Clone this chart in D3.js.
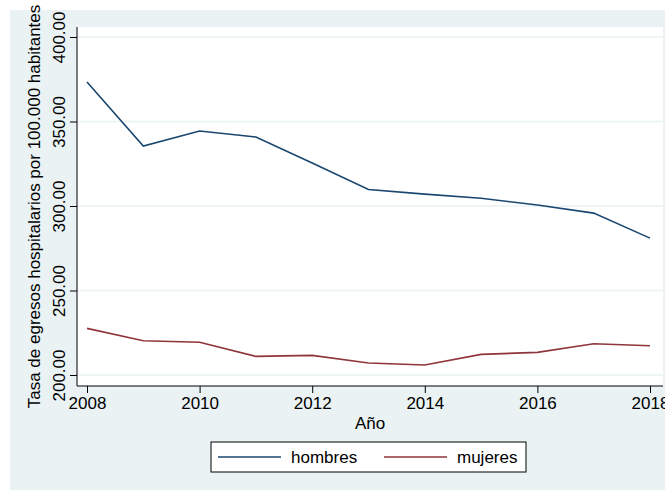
<!DOCTYPE html>
<html>
<head>
<meta charset="utf-8">
<script src="https://cdn.jsdelivr.net/npm/d3@7"></script>
<style>
  body { margin: 0; background: #fff; }
  text { font-family: "Liberation Sans", Arial, sans-serif; fill: #000; }
</style>
</head>
<body>
<svg id="chart" width="665" height="490"></svg>
<script>
// data
var years = [2008, 2009, 2010, 2011, 2012, 2013, 2014, 2015, 2016, 2017, 2018]
var hombres = [373.4, 335.5, 344.4, 340.8, 325.4, 309.8, 307.0, 304.6, 300.6, 295.8, 281.0]
var mujeres = [227.6, 220.3, 219.4, 211.0, 211.6, 207.1, 205.9, 212.2, 213.4, 218.5, 217.3]
var yTicks = [200, 250, 300, 350, 400]
var xTicks = [2008, 2010, 2012, 2014, 2016, 2018]
var series = [
    {name: "hombres", values: hombres, color: "#1a476f"},
    {name: "mujeres", values: mujeres, color: "#90353b"}
]

var fontSize = 17
var svg = d3.select("#chart")

// graph region background
svg.append("rect")
    .attr("x", 10).attr("y", 10)
    .attr("width", 655).attr("height", 480)
    .attr("fill", "#eaf2f3")

var plot = {left: 77, right: 663, top: 27, bottom: 386}

svg.append("rect")
    .attr("x", plot.left).attr("y", plot.top)
    .attr("width", plot.right - plot.left)
    .attr("height", plot.bottom - plot.top)
    .attr("fill", "#fff")

var x = d3.scaleLinear().domain([2008, 2018]).range([87, 650])
var y = d3.scaleLinear().domain([200, 400]).range([375, 37])

// gridlines
svg.selectAll(".grid")
    .data(yTicks).enter()
    .append("line")
    .attr("class", "grid")
    .attr("x1", plot.left).attr("x2", plot.right)
    .attr("y1", function(d) { return y(d) })
    .attr("y2", function(d) { return y(d) })
    .attr("stroke", "#eaf2f3")
    .attr("stroke-width", 1.5)

// lines
var line = d3.line()
    .x(function(d, i) { return x(years[i]) })
    .y(function(d) { return y(d) })

svg.selectAll(".series")
    .data(series).enter()
    .append("path")
    .attr("class", "series")
    .attr("d", function(d) { return line(d.values) })
    .attr("fill", "none")
    .attr("stroke", function(d) { return d.color })
    .attr("stroke-width", 1.6)

// y axis
var yAxis = svg.append("g")
    .attr("transform", "translate(" + plot.left + ",0)")
    .call(d3.axisLeft(y).tickValues(yTicks).tickSize(7).tickPadding(5)
        .tickFormat(d3.format(".2f")))
yAxis.select(".domain").attr("d", "M0," + plot.top + "V" + plot.bottom)
yAxis.selectAll("text")
    .attr("font-size", fontSize)
    .attr("transform", "rotate(-90)")
    .attr("text-anchor", "middle")
    .attr("x", 0)
    .attr("y", -12)
    .attr("dy", 0)

// x axis
var xAxis = svg.append("g")
    .attr("transform", "translate(0," + plot.bottom + ")")
    .call(d3.axisBottom(x).tickValues(xTicks).tickSize(7).tickPadding(4)
        .tickFormat(d3.format("d")))
xAxis.select(".domain").attr("d", "M" + plot.left + ",0H" + plot.right)
xAxis.selectAll("text").attr("font-size", fontSize)

svg.selectAll(".domain, .tick line").attr("stroke", "#000")

// titles
svg.append("text")
    .attr("transform", "translate(40," + (plot.top + plot.bottom) / 2 + ") rotate(-90)")
    .attr("text-anchor", "middle")
    .attr("font-size", fontSize)
    .text("Tasa de egresos hospitalarios por 100.000 habitantes")

svg.append("text")
    .attr("x", 370).attr("y", 429)
    .attr("text-anchor", "middle")
    .attr("font-size", fontSize)
    .text("Año")

// legend
svg.append("rect")
    .attr("x", 211).attr("y", 442)
    .attr("width", 315).attr("height", 30)
    .attr("fill", "#fff")
    .attr("stroke", "#000")
    .attr("stroke-width", 1)

var items = svg.selectAll(".item")
    .data(series).enter()
    .append("g")
    .attr("class", "item")
    .attr("transform", function(d, i) { return "translate(" + (218 + i * 166) + ",457)" })
items.append("line")
    .attr("x1", 0).attr("x2", 63)
    .attr("stroke", function(d) { return d.color })
    .attr("stroke-width", 1.6)
items.append("text")
    .attr("x", 73).attr("y", 6)
    .attr("font-size", fontSize)
    .text(function(d) { return d.name })
</script>
</body>
</html>
